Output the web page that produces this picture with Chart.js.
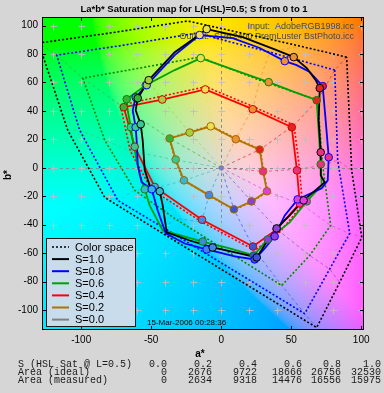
<!DOCTYPE html>
<html>
<head>
<meta charset="utf-8">
<script src="https://cdn.jsdelivr.net/npm/chart.js@4.4.1/dist/chart.umd.min.js"></script>
<style>
  html, body { margin: 0; padding: 0; background: #d6d6d6; }
  #wrap { width: 384px; height: 393px; }
</style>
</head>
<body>
<div id="wrap"><canvas id="satMap" width="384" height="393"></canvas></div>
<script>
// ---------------------------------------------------------------
//  La*b* saturation map (Chart.js scatter + lines)
// ---------------------------------------------------------------

// hue order of every 12-point array below:
// red, orange, yellow, chartreuse, green, spring, cyan, azure, blue, violet, magenta, rose
const hueColors = ["#e82020", "#ec9030", "#ece050", "#a4d040", "#38b038", "#38c890",
                   "#38b8d0", "#4088e0", "#4050d8", "#8c40d8", "#e040d8", "#ec3080"];

const xTicks = [-100, -50, 0, 50, 100];
const yTicks = [-100, -80, -60, -40, -20, 0, 20, 40, 60, 80, 100];
const gridStep = [-120, -100, -80, -60, -40, -20, 0, 20, 40, 60, 80, 100];

// ideal (input colour space) points, dotted
const colorSpace = [[89.6, 77.8], [56.1, 85.6], [-23.9, 103.2], [-79.6, 94.7], [-130.4, 87.7], [-109.6, 26.4],
                    [-83.2, -20.8], [-41.8, -46.1], [68.2, -112.3], [84.6, -80.6], [100.4, -48.9], [93.2, -1.8]];
const ideal08 = [[81.1, 68.7], [34.6, 81.3], [-17.5, 94.7], [-68.9, 86.3], [-117.5, 79.2], [-101.1, 26.4],
                 [-73.9, -22.9], [-40.4, -42.6], [59.6, -102.5], [77.5, -71.2], [91.8, -46.1], [83.2, 5.3]];
const ideal06 = [[68.9, 47.5], [27.5, 61.6], [-15.4, 77.8], [-58.2, 70.1], [-98.9, 63.0], [-83.2, 19.4],
                 [-61.8, -15.8], [-33.2, -35.6], [43.2, -82.7], [63.2, -61.6], [78.2, -40.5], [72.5, 1.8]];
const ideal04 = [[52, 30], [23, 43], [-11, 57], [-44, 50], [-72, 44], [-65, 12],
                 [-50, -15], [-14, -38], [24, -58], [42, -45], [58, -26], [56, -1]];
const ideal02 = [[28, 13], [10.6, 20.5], [-7.5, 29.6], [-22.8, 25.2], [-37.2, 20.8], [-33, 5.6],
                 [-27, -9], [-8.8, -19.6], [9.2, -29.6], [22, -24], [33.2, -16.8], [30.3, -2.5]];

// measured traces
const meas10Path = [[-10.4, 97.5], [15.4, 91.9], [39.6, 82.7], [51.8, 77.8], [61.1, 70.1], [67.5, 61.6], [70.4, 56.0],
                    [69.6, 33.5], [71.1, 10.9], [71.1, -5.3], [73.9, -10.2], [58.9, -22.9], [48.9, -33.5], [39.6, -42.6],
                    [33.2, -51.1], [25.4, -63.0], [13.2, -60.2], [-6.1, -56.0], [-22.5, -51.1], [-38.9, -45.4],
                    [-41.8, -26.4], [-43.9, -16.5], [-51.1, -12.3], [-54.6, -1.8], [-56.1, 19.4], [-57.5, 30.6],
                    [-61.1, 40.5], [-59.6, 48.9], [-51.8, 61.6], [-33.2, 81.3], [-18.9, 91.2], [-10.4, 97.5]];
const meas10 = [[70.4, 56.0], [51.8, 77.8], [-10.4, 97.5], [-51.8, 61.6], [-59.6, 48.9], [-57.5, 30.6],
                [-43.9, -16.5], [-6.1, -56.0], [25.4, -63.0], [39.6, -42.6], [58.9, -22.9], [71.1, 10.9]];

const meas08Path = [[-15.4, 93.3], [8.2, 91.2], [27.5, 84.2], [45.4, 75.0], [53.9, 72.2], [63.2, 67.3], [72.5, 57.4],
                    [74.6, 33.5], [76.8, 7.4], [76.1, -8.8], [71.8, -14.4], [54.6, -22.2], [45.4, -33.5], [38.2, -48.2],
                    [31.1, -56.7], [23.9, -64.4], [9.6, -62.3], [-10.4, -57.4], [-26.1, -53.2], [-39.6, -46.1],
                    [-45.4, -29.9], [-49.6, -15.1], [-56.8, -10.2], [-59.6, 1.8], [-60.4, 19.4], [-61.1, 28.5],
                    [-63.2, 40.5], [-61.1, 49.6], [-53.2, 58.1], [-33.2, 79.2], [-15.4, 93.3]];
const meas08 = [[72.5, 57.4], [45.4, 75.0], [-15.4, 93.3], [-53.2, 58.1], [-61.1, 49.6], [-61.1, 28.5],
                [-49.6, -15.1], [-10.4, -57.4], [23.9, -64.4], [38.2, -48.2], [54.6, -22.2], [76.8, 7.4]];

const meas06Path = [[-14.6, 77.1], [9.6, 68.7], [33.9, 60.2], [52.5, 53.2], [68.2, 47.5], [69.6, 26.4], [71.1, 2.5],
                    [71.8, -12.3], [61.1, -23.6], [48.9, -38.4], [33.2, -50.4], [23.2, -61.6], [6.1, -56.7],
                    [-13.2, -51.8], [-41.8, -44.0], [-51.1, -26.4], [-54.6, -15.1], [-58.2, -5.3], [-63.2, 19.4],
                    [-64.6, 28.5], [-66.8, 40.5], [-67.5, 48.2], [-53.9, 58.1], [-33.2, 68.7], [-14.6, 77.1]];
const meas06 = [[68.2, 47.5], [33.9, 60.2], [-14.6, 77.1], [-53.9, 58.1], [-67.5, 48.2], [-64.6, 28.5],
                [-54.6, -15.1], [-13.2, -51.8], [23.2, -61.6], [33.2, -50.4], [61.1, -23.6], [71.1, 2.5]];

const meas04 = [[50.4, 28.5], [22.5, 41.2], [-11.4, 55.1], [-42.1, 48.0], [-69.6, 42.6], [-61.8, 14.8],
                [-47.5, -13.5], [-13.7, -36.5], [22.7, -55.3], [39.6, -43.3], [56.1, -25.0], [54.1, -1.8]];
const meas02 = [[27.5, 12.8], [10.4, 20.1], [-7.5, 29.2], [-22.5, 24.8], [-36.8, 20.6], [-32.5, 5.8],
                [-26.6, -8.8], [-8.7, -19.2], [9.1, -29.2], [21.6, -23.6], [32.7, -16.5], [29.9, -2.5]];
const meas00 = [[0, 0]];

// table under the plot
const satLevels = ["0.0", "0.2", "0.4", "0.6", "0.8", "1.0"];
const areaIdeal = [0, 2676, 9722, 18666, 26756, 32530];
const areaMeasured = [0, 2634, 9318, 14476, 16556, 15975];

const legendLabels = ["Color space", "S=1.0", "S=0.8", "S=0.6", "S=0.4", "S=0.2", "S=0.0"];
const legendColors = ["#000000", "#000000", "#0000ff", "#00a000", "#ff0000", "#b07400", "#808080"];

// ---------------------------------------------------------------
const pts = arr => arr.map(([x, y]) => ({ x, y }));
const ring = arr => pts(arr.concat([arr[0]]));

function labToRgb(L, a, b) {
  const fy = (L + 16) / 116, fx = fy + a / 500, fz = fy - b / 200;
  const f = t => t > 0.206893 ? t * t * t : (t - 16 / 116) / 7.787;
  const X = 0.95047 * f(fx), Y = f(fy), Z = 1.08883 * f(fz);
  const lin = [3.2406 * X - 1.5372 * Y - 0.4986 * Z,
               -0.9689 * X + 1.8758 * Y + 0.0415 * Z,
               0.0557 * X - 0.2040 * Y + 1.0570 * Z];
  return lin.map(c => {
    c = Math.min(Math.max(c, 0), 1);
    c = c <= 0.0031308 ? 12.92 * c : 1.055 * Math.pow(c, 1 / 2.4) - 0.055;
    return Math.round(c * 255);
  });
}

const datasets = [];

// hue spokes (dashed) through the ideal points
hueColors.forEach((c, h) => {
  datasets.push({
    data: pts([[0, 0], ideal02[h], ideal04[h], ideal06[h], ideal08[h], colorSpace[h]]),
    showLine: true, borderColor: c + "b0", borderWidth: 1, borderDash: [3, 3],
    pointRadius: 0, clip: 0, order: 90,
  });
});

// ideal polygons (dotted)
[[colorSpace, "#000000"], [ideal08, "#0000ff"], [ideal06, "#008800"], [ideal04, "#ff0000"], [ideal02, "#b07400"]]
  .forEach(([arr, c]) => {
    datasets.push({
      data: ring(arr), showLine: true, borderColor: c, borderWidth: 1.6, borderDash: [2, 2],
      pointRadius: 0, clip: 0, order: 80,
    });
  });

// measured lines
[[meas02, "#b07400", true], [meas04, "#ff0000", true], [meas06Path, "#00a000", false],
 [meas08Path, "#0000ff", false], [meas10Path, "#000000", false]].forEach(([arr, c, close], i) => {
  datasets.push({
    data: close ? ring(arr) : pts(arr), showLine: true, borderColor: c, borderWidth: 1.8,
    pointRadius: 0, clip: 0, order: 50 - i,
  });
});

// markers
[[meas02, "#a06800"], [meas04, "#d00000"], [meas06, "#008800"], [meas08, "#0000ff"], [meas10, "#000000"]]
  .forEach(([arr, c], i) => {
    datasets.push({
      data: pts(arr), showLine: false, pointRadius: 3.8, pointBorderWidth: 1,
      pointBackgroundColor: hueColors, pointBorderColor: c, order: 20 - i,
    });
  });
datasets.push({
  data: pts(meas00), showLine: false, pointRadius: 2, pointBackgroundColor: "#6080ff",
  pointBorderColor: "#808080", order: 1,
});

// background lightness: brighter toward yellow, darker toward blue
const bgLight = b => 87 + 0.045 * Math.max(b, 0) + 0.13 * Math.min(b, 0);

const decor = {
  id: "decor",
  beforeDraw(chart) {
    const { ctx, chartArea: ca, scales: { x, y } } = chart;
    ctx.save();
    ctx.fillStyle = "#d6d6d6";
    ctx.fillRect(0, 0, chart.width, chart.height);
    const w = Math.round(ca.right - ca.left), h = Math.round(ca.bottom - ca.top);
    const img = ctx.createImageData(w, h);
    for (let j = 0; j < h; j++) {
      const bv = y.getValueForPixel(ca.top + j + 0.5);
      const L = bgLight(bv);
      for (let i = 0; i < w; i++) {
        const av = x.getValueForPixel(ca.left + i + 0.5);
        const [r, g, b] = labToRgb(L, av, bv);
        const k = (j * w + i) * 4;
        img.data[k] = r; img.data[k + 1] = g; img.data[k + 2] = b; img.data[k + 3] = 255;
      }
    }
    ctx.putImageData(img, Math.round(ca.left), Math.round(ca.top));
    ctx.restore();
  },
  beforeDatasetsDraw(chart) {
    const { ctx, chartArea: ca, scales: { x, y } } = chart;
    ctx.save();
    ctx.beginPath();
    ctx.rect(ca.left, ca.top, ca.right - ca.left, ca.bottom - ca.top);
    ctx.clip();
    // zero lines
    ctx.strokeStyle = "#8c8c8c";
    ctx.lineWidth = 1;
    ctx.setLineDash([3, 3]);
    ctx.beginPath();
    ctx.moveTo(Math.round(x.getPixelForValue(0)) + 0.5, ca.top);
    ctx.lineTo(Math.round(x.getPixelForValue(0)) + 0.5, ca.bottom);
    ctx.moveTo(ca.left, Math.round(y.getPixelForValue(0)) + 0.5);
    ctx.lineTo(ca.right, Math.round(y.getPixelForValue(0)) + 0.5);
    ctx.stroke();
    ctx.setLineDash([]);
    // cross grid
    ctx.strokeStyle = "rgba(190,190,190,0.85)";
    ctx.beginPath();
    gridStep.forEach(a => {
      gridStep.forEach(b => {
        const px = Math.round(x.getPixelForValue(a)) + 0.5, py = Math.round(y.getPixelForValue(b)) + 0.5;
        ctx.moveTo(px - 3, py); ctx.lineTo(px + 4, py);
        ctx.moveTo(px, py - 3); ctx.lineTo(px, py + 4);
      });
    });
    ctx.stroke();
    // profile labels
    ctx.fillStyle = "#484848";
    ctx.font = "9px 'Liberation Sans', Arial, sans-serif";
    ctx.textAlign = "right";
    ctx.textBaseline = "middle";
    ctx.fillText("Input:  AdobeRGB1998.icc", 354, 27);
    ctx.fillText("Output:  SPR2400 PremLuster BstPhoto.icc", 354, 37);
    ctx.fillStyle = "#000000";
    ctx.font = "8px 'Liberation Sans', Arial, sans-serif";
    ctx.textAlign = "left";
    ctx.fillText("15-Mar-2006 00:28:36", 147, 323);
    ctx.restore();
  },
  afterDraw(chart) {
    const { ctx, chartArea: ca, scales: { x, y } } = chart;
    ctx.save();
    // box and inward ticks
    ctx.strokeStyle = "#000000";
    ctx.lineWidth = 1;
    ctx.strokeRect(Math.round(ca.left) + 0.5, Math.round(ca.top) + 0.5,
                   Math.round(ca.right - ca.left) - 1, Math.round(ca.bottom - ca.top) - 1);
    ctx.beginPath();
    xTicks.forEach(v => {
      const px = Math.round(x.getPixelForValue(v)) + 0.5;
      ctx.moveTo(px, ca.bottom); ctx.lineTo(px, ca.bottom - 4);
      ctx.moveTo(px, ca.top); ctx.lineTo(px, ca.top + 4);
    });
    yTicks.forEach(v => {
      const py = Math.round(y.getPixelForValue(v)) + 0.5;
      ctx.moveTo(ca.left, py); ctx.lineTo(ca.left + 4, py);
      ctx.moveTo(ca.right, py); ctx.lineTo(ca.right - 4, py);
    });
    ctx.stroke();

    // legend
    const lx = 46, ly = 238, lw = 89, lh = 88;
    ctx.fillStyle = "#c8dcec";
    ctx.fillRect(lx, ly, lw, lh);
    ctx.strokeStyle = "#1a1a1a";
    ctx.strokeRect(lx + 0.5, ly + 0.5, lw, lh);
    ctx.font = "11px 'Liberation Sans', Arial, sans-serif";
    ctx.textBaseline = "middle";
    ctx.textAlign = "left";
    legendLabels.forEach((lab, i) => {
      const yy = ly + 9 + i * 12.1;
      ctx.strokeStyle = legendColors[i];
      ctx.lineWidth = i === 0 ? 1.5 : 2;
      ctx.setLineDash(i === 0 ? [2, 2] : []);
      ctx.beginPath();
      ctx.moveTo(lx + 6, yy); ctx.lineTo(lx + 23, yy);
      ctx.stroke();
      ctx.setLineDash([]);
      ctx.fillStyle = "#000000";
      ctx.fillText(lab, lx + 29, yy + 0.5);
    });

    // titles
    ctx.fillStyle = "#000000";
    ctx.textAlign = "center";
    ctx.font = "bold 9.5px 'Liberation Sans', Arial, sans-serif";
    ctx.fillText("La*b* Saturation map for L(HSL)=0.5; S from 0 to 1", 194, 9);
    ctx.font = "bold 10px 'Liberation Sans', Arial, sans-serif";
    ctx.fillText("a*", 200, 354);
    ctx.save();
    ctx.translate(8, 175);
    ctx.rotate(-Math.PI / 2);
    ctx.fillText("b*", 0, 0);
    ctx.restore();

    // area table
    ctx.font = "10px 'Liberation Mono', 'Courier New', monospace";
    ctx.fillStyle = "#1a1a1a";
    const colRight = [167, 212, 257, 302, 341, 381];
    const rows = [["S (HSL Sat @ L=0.5)", satLevels],
                  ["Area (ideal)", areaIdeal],
                  ["Area (measured)", areaMeasured]];
    rows.forEach(([label, vals], r) => {
      const yy = 364 + r * 8.2;
      ctx.textAlign = "left";
      ctx.fillText(label, 18, yy);
      ctx.textAlign = "right";
      vals.forEach((v, c) => ctx.fillText(String(v), colRight[c], yy));
    });
    ctx.restore();
  },
};

new Chart(document.getElementById("satMap"), {
  type: "scatter",
  data: { datasets },
  options: {
    responsive: false,
    devicePixelRatio: 1,
    animation: false,
    layout: { padding: { top: 17, right: 20, left: 0, bottom: 0 } },
    elements: { line: { tension: 0 } },
    scales: {
      x: {
        type: "linear", min: -128, max: 102,
        afterFit: s => { s.height = 63; },
        afterBuildTicks: s => { s.ticks = xTicks.map(v => ({ value: v })); },
        grid: { display: false, drawTicks: false },
        border: { display: false },
        ticks: { color: "#000", padding: 4, font: { size: 10, family: "'Liberation Sans', Arial" } },
      },
      y: {
        type: "linear", min: -114, max: 106,
        afterFit: s => { s.width = 42; },
        afterBuildTicks: s => { s.ticks = yTicks.map(v => ({ value: v })); },
        grid: { display: false, drawTicks: false },
        border: { display: false },
        ticks: { color: "#000", padding: 4, font: { size: 10, family: "'Liberation Sans', Arial" } },
      },
    },
    plugins: { legend: { display: false }, tooltip: { enabled: false }, title: { display: false } },
  },
  plugins: [decor],
});
</script>
</body>
</html>
